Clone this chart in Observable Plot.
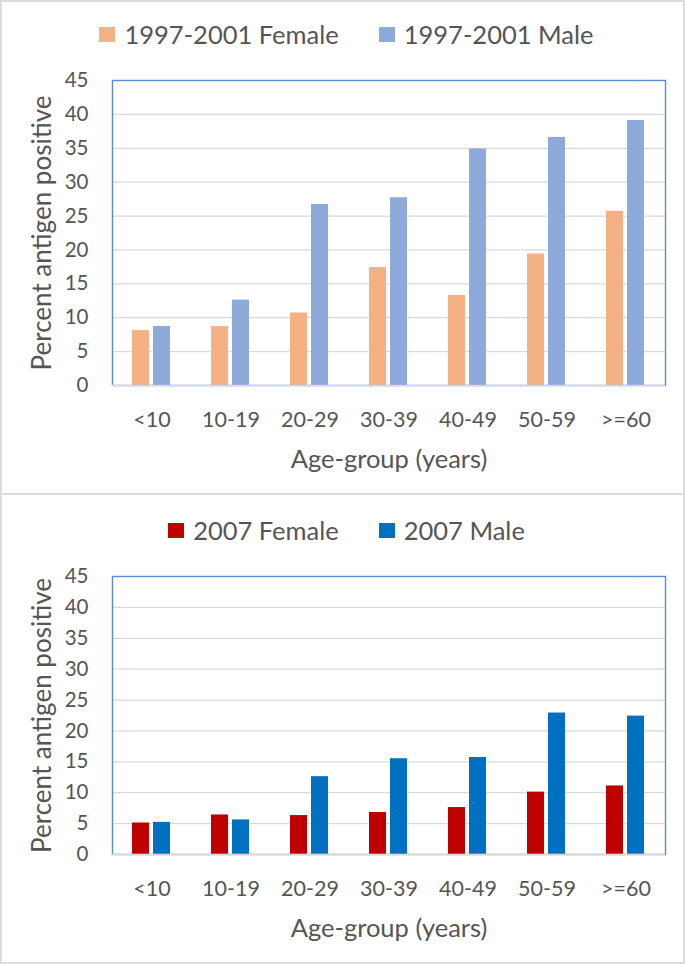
<!DOCTYPE html>
<html>
<head>
<meta charset="utf-8">
<script src="https://cdn.jsdelivr.net/npm/d3@7"></script>
<script src="https://cdn.jsdelivr.net/npm/@observablehq/plot@0.6"></script>
<style>
  html, body { margin: 0; padding: 0; background: #fff; }
  #page { position: relative; width: 685px; height: 964px; font-family: Lato, sans-serif; color: #555; }
  .panel { position: absolute; left: 0; width: 685px; box-sizing: border-box; border: 2px solid #dcdcdc; }
  .legend { display: flex; justify-content: center; align-items: center; font-size: 25.5px; box-sizing: border-box; padding-left: 8px; }
  .legend .item { display: flex; align-items: center; margin: 0 20px; }
  .legend .sw { width: 16px; height: 15px; margin-right: 9px; }
  svg { display: block; }
  g[aria-label="y-axis tick label"] text { font-size: 20.5px; }
  g[aria-label="fx-axis tick label"] text { font-size: 21.5px; }
  g[aria-label="y-axis label"] text { font-size: 26px; }
  g[aria-label="fx-axis label"] text { font-size: 25.5px; }
</style>
</head>
<body>
<div id="page">
  <div class="panel" id="p1" style="top:0;height:495px;"></div>
  <div class="panel" id="p2" style="top:493px;height:471px;"></div>
</div>
<script>
const ageGroups = ["<10", "10-19", "20-29", "30-39", "40-49", "50-59", ">=60"];

const seriesTop = ["1997-2001 Female", "1997-2001 Male"];
const femaleTop = [8.1, 8.7, 10.7, 17.4, 13.3, 19.4, 25.7];
const maleTop   = [8.7, 12.6, 26.7, 27.7, 34.9, 36.6, 39.1];
const colorsTop = ["#f4b183", "#8eaadb"];

const seriesBottom = ["2007 Female", "2007 Male"];
const femaleBottom = [5.1, 6.4, 6.3, 6.8, 7.6, 10.1, 11.1];
const maleBottom   = [5.2, 5.6, 12.6, 15.5, 15.7, 22.9, 22.4];
const colorsBottom = ["#c00000", "#0070c0"];

const yTicks = [0, 5, 10, 15, 20, 25, 30, 35, 40, 45];
const gridTicks = [5, 10, 15, 20, 25, 30, 35, 40];
const yLabel = "Percent antigen positive";
const xLabel = "Age-group (years)";

function makeLegend(series, colors, height, padTop) {
  const div = document.createElement("div");
  div.className = "legend";
  div.style.height = height + "px";
  div.style.paddingTop = padTop + "px";
  series.forEach((s, i) => {
    const item = document.createElement("div");
    item.className = "item";
    const sw = document.createElement("span");
    sw.className = "sw";
    sw.style.background = colors[i];
    const t = document.createElement("span");
    t.textContent = s;
    item.appendChild(sw);
    item.appendChild(t);
    div.appendChild(item);
  });
  return div;
}

function makeChart(series, female, male, colors, height, marginTop) {
  const data = ageGroups.flatMap((a, i) => [
    {age: a, series: series[0], value: female[i]},
    {age: a, series: series[1], value: male[i]}
  ]);
  return Plot.plot({
    width: 681,
    height,
    marginLeft: 109,
    marginRight: 18,
    marginTop,
    marginBottom: 108,
    style: {fontFamily: "Lato, sans-serif", fontSize: "21px", color: "#555", background: "transparent"},
    fx: {domain: ageGroups, padding: 0, axis: "bottom", tickSize: 0, tickPadding: 26, label: xLabel, labelAnchor: "center", labelOffset: 82},
    x: {domain: series, paddingInner: 0.18, paddingOuter: 0.9, axis: null},
    y: {domain: [0, 45], ticks: yTicks, tickSize: 0, tickPadding: 24, label: yLabel, labelAnchor: "center", labelOffset: 80, labelArrow: "none"},
    color: {domain: series, range: colors},
    marks: [
      Plot.ruleY(gridTicks, {stroke: "#d9d9d9", strokeWidth: 1.3}),
      Plot.barY(data, {fx: "age", x: "series", y: "value", fill: "series"}),
      Plot.frame({stroke: "#5b8ad6", strokeWidth: 1.4, facet: "super"}),
      Plot.ruleY([0], {stroke: "#d9d9d9", strokeWidth: 1.6})
    ]
  });
}

const p1 = document.getElementById("p1");
p1.appendChild(makeLegend(seriesTop, colorsTop, 60, 4));
p1.appendChild(makeChart(seriesTop, femaleTop, maleTop, colorsTop, 431, 18));

const p2 = document.getElementById("p2");
p2.appendChild(makeLegend(seriesBottom, colorsBottom, 68, 2));
p2.appendChild(makeChart(seriesBottom, femaleBottom, maleBottom, colorsBottom, 399, 13));
</script>
</body>
</html>
